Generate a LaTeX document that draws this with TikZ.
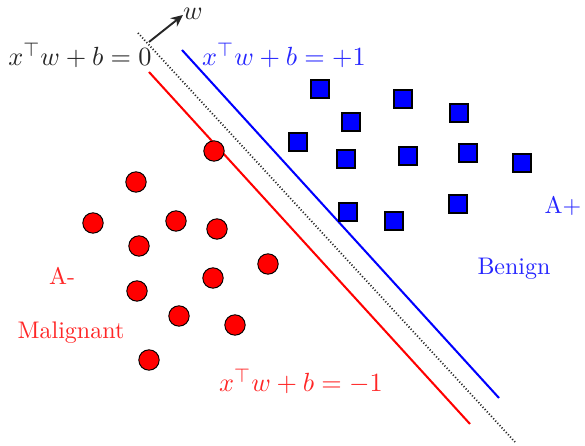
\documentclass[tikz,border=0pt]{standalone}
\usetikzlibrary{arrows.meta}
\begin{document}
\begin{tikzpicture}[x=0.4167pt,y=-0.4167pt,
  sq/.style={draw=black,fill=blue,line width=0.85pt,minimum size=7.8pt,inner sep=0pt,rectangle},
  dot/.style={draw=black,fill=red,line width=0.4pt,minimum size=8.5pt,inner sep=0pt,circle},
  eq/.style={anchor=base,font=\fontsize{11}{13}\selectfont,inner sep=0pt},
  lbl/.style={anchor=base,inner sep=0pt},
  sep/.style={line width=0.85pt}]
\useasboundingbox (0,0) rectangle (585,446);
% lines
\coordinate (d1) at (138,33); \coordinate (d2) at (515,442);
\coordinate (b1) at (182,50); \coordinate (b2) at (499,398);
\coordinate (r1) at (149,72); \coordinate (r2) at (470,424);
\coordinate (a1) at (149,42); \coordinate (a2) at (183,15);
\draw[line width=0.75pt,dash pattern=on 0.45pt off 0.85pt,black!85] (d1) -- (d2);
\draw[sep,blue] (b1) -- (b2);
\draw[sep,red] (r1) -- (r2);
\draw[line width=0.8pt,black!85,-{Stealth[length=5pt,width=4.5pt]}] (a1) -- (a2);
% labels
\node[eq,black!85] (w) at (193,20) {$w$};
\node[eq,black!85] (e0) at (80,66) {$x^\top w+b=0$};
\node[eq,blue!85] (e1) at (284,66) {$x^\top w+b=+1$};
\node[eq,red!85] (e2) at (301,392) {$x^\top w+b=-1$};
\node[lbl,blue!85] (ap) at (563,214) {A+};
\node[lbl,blue!85] (ben) at (514,275) {Benign};
\node[lbl,red!85] (am) at (62,285) {A-};
\node[lbl,red!85] (mal) at (71,339) {Malignant};
% squares
\node[sq] (s1) at (320,89) {};
\node[sq] (s2) at (403,99) {};
\node[sq] (s3) at (459,113) {};
\node[sq] (s4) at (351,122) {};
\node[sq] (s5) at (298,142) {};
\node[sq] (s6) at (346,159) {};
\node[sq] (s7) at (408,156) {};
\node[sq] (s8) at (468,153) {};
\node[sq] (s9) at (522,163) {};
\node[sq] (s10) at (348,212) {};
\node[sq] (s11) at (394,221) {};
\node[sq] (s12) at (458,204) {};
% circles
\node[dot] (c1) at (214,151) {};
\node[dot] (c2) at (136,182) {};
\node[dot] (c3) at (93,223) {};
\node[dot] (c4) at (176,221) {};
\node[dot] (c5) at (217,229) {};
\node[dot] (c6) at (139,246) {};
\node[dot] (c7) at (268,264) {};
\node[dot] (c8) at (213,278) {};
\node[dot] (c9) at (137,291) {};
\node[dot] (c10) at (179,316) {};
\node[dot] (c11) at (235,325) {};
\node[dot] (c12) at (149,360) {};
\end{tikzpicture}
\end{document}
